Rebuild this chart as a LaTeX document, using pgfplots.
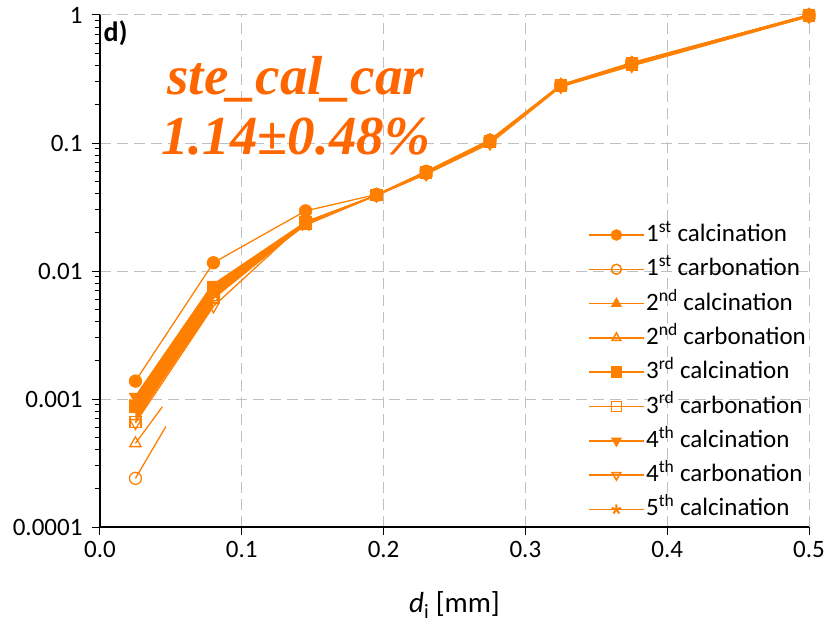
\documentclass[border=0pt]{standalone}
\usepackage{fontspec}
\setmainfont{Carlito}
\newfontfamily\bigfont{Liberation Serif}
\usepackage{pgfplots}
\pgfplotsset{compat=1.18}
\usetikzlibrary{calc}
\definecolor{lo}{RGB}{255,128,0}
\definecolor{to}{RGB}{255,102,0}
\definecolor{gr}{RGB}{192,192,192}
\pgfplotsset{
  filled/.style={lo, line width=1.3pt, mark options={solid, fill=lo, draw=lo}},
  hollow/.style={lo, line width=1.3pt, mark options={solid, fill=white, draw=lo}},
}
\begin{document}
\begin{tikzpicture}
\begin{axis}[
  name=ax,
  scale only axis,
  width=709pt, height=512pt,
  xmin=0, xmax=0.5,
  ymode=log, ymin=1e-4, ymax=1,
  axis x line=bottom, axis y line=left,
  axis line style={-, black, line width=1.2pt},
  xtick={0,0.1,0.2,0.3,0.4,0.5},
  xticklabels={0.0,0.1,0.2,0.3,0.4,0.5},
  ytick={1e-4,1e-3,1e-2,1e-1,1},
  yticklabels={0.0001,0.001,0.01,0.1,1},
  tick align=outside,
  major tick length=8pt, minor tick length=5pt,
  tick style={black, line width=1pt},
  grid=major,
  major grid style={gr, line width=1pt, dash pattern=on 11pt off 6pt},
  ticklabel style={font=\fontsize{25}{28}\selectfont},
  xticklabel style={yshift=-3pt},
  yticklabel style={xshift=-6pt},
  /pgf/number format/assume math mode=true,
  xlabel={\textit{d}\textsubscript{i} [mm]},
  xlabel style={font=\fontsize{29}{32}\selectfont, yshift=-27pt},
  clip=false,
  legend cell align=left,
  legend style={at={(rel axis cs:0.998,0.60)}, anchor=north east,
    draw=none, fill=none, font=\fontsize{25}{28}\selectfont,
    row sep=4.3pt, inner sep=0pt,
    nodes={inner sep=1.5pt, text height=20pt, text depth=7pt}},
  legend image code/.code={\draw[line width=1.5pt, mark repeat=2, mark phase=2, mark size=5pt]
    plot coordinates {(0pt,0pt) (27.5pt,0pt) (55pt,0pt)};},
]
% bands where the lower lines run together
\addplot[fill=lo, draw=none, forget plot] coordinates {
  (0.025,0.00107) (0.08,0.0082) (0.08,0.0053) (0.025,0.00068)};
\addplot[fill=lo, draw=none, forget plot] coordinates {
  (0.08,0.0080) (0.145,0.0245) (0.145,0.0230) (0.08,0.0060)};
% short stubs of the carbonation lines
\addplot[lo, line width=1.3pt, forget plot] coordinates {(0.025,0.00024) (0.0465,0.00061)};
\addplot[lo, line width=1.3pt, forget plot] coordinates {(0.025,0.00045) (0.044,0.00087)};

\addplot[filled, mark=*, mark size=6pt] coordinates {
  (0.025,0.00138) (0.08,0.0116) (0.145,0.0295) (0.195,0.0396) (0.23,0.060)
  (0.275,0.105) (0.325,0.280) (0.375,0.420) (0.5,1.0)};
\addlegendentry{1\textsuperscript{st} calcination}
\addplot[hollow, mark=o, mark size=6pt, unbounded coords=jump] coordinates {
  (0.025,0.00024) (0.05,nan) (0.08,0.0065) (0.145,0.0240) (0.195,0.039) (0.23,0.058)
  (0.275,0.102) (0.325,0.280) (0.375,0.410) (0.5,0.98)};
\addlegendentry{1\textsuperscript{st} carbonation}
\addplot[filled, mark=triangle*, mark size=6.5pt] coordinates {
  (0.025,0.00092) (0.08,0.0070) (0.145,0.0235) (0.195,0.039) (0.23,0.059)
  (0.275,0.104) (0.325,0.285) (0.375,0.420) (0.5,1.0)};
\addlegendentry{2\textsuperscript{nd} calcination}
\addplot[hollow, mark=triangle, mark size=6.5pt, unbounded coords=jump] coordinates {
  (0.025,0.00045) (0.05,nan) (0.08,0.0062) (0.145,0.0240) (0.195,0.039) (0.23,0.058)
  (0.275,0.102) (0.325,0.280) (0.375,0.410) (0.5,0.99)};
\addlegendentry{2\textsuperscript{nd} carbonation}
\addplot[filled, mark=square*, mark size=5.5pt] coordinates {
  (0.025,0.00087) (0.08,0.0074) (0.145,0.0235) (0.195,0.039) (0.23,0.059)
  (0.275,0.104) (0.325,0.283) (0.375,0.420) (0.5,1.0)};
\addlegendentry{3\textsuperscript{rd} calcination}
\addplot[hollow, mark=square, mark size=5.5pt] coordinates {
  (0.025,0.00066) (0.08,0.0062) (0.145,0.0240) (0.195,0.039) (0.23,0.058)
  (0.275,0.102) (0.325,0.280) (0.375,0.410) (0.5,0.99)};
\addlegendentry{3\textsuperscript{rd} carbonation}
\addplot[filled, mark=triangle*, mark size=6.5pt, mark options={rotate=180}] coordinates {
  (0.025,0.00104) (0.08,0.0078) (0.145,0.0240) (0.195,0.039) (0.23,0.059)
  (0.275,0.104) (0.325,0.283) (0.375,0.420) (0.5,1.0)};
\addlegendentry{4\textsuperscript{th} calcination}
\addplot[hollow, mark=triangle, mark size=6.5pt, mark options={rotate=180}] coordinates {
  (0.025,0.00065) (0.08,0.0053) (0.145,0.0243) (0.195,0.039) (0.23,0.057)
  (0.275,0.099) (0.325,0.275) (0.375,0.400) (0.5,0.97)};
\addlegendentry{4\textsuperscript{th} carbonation}
\addplot[filled, mark=star, mark size=6.5pt, mark options={line width=2pt}] coordinates {
  (0.025,0.00095) (0.08,0.0068) (0.145,0.0228) (0.195,0.039) (0.23,0.060)
  (0.275,0.106) (0.325,0.285) (0.375,0.425) (0.5,1.0)};
\addlegendentry{5\textsuperscript{th} calcination}

\node[anchor=north west, inner sep=0pt, font=\fontsize{28}{30}\selectfont\bfseries]
  at (rel axis cs:0.005,0.99) {d)};
\node[anchor=base, inner sep=0pt, text=to, font=\fontsize{55}{58}\selectfont\bigfont\bfseries\itshape]
  at (rel axis cs:0.276,0.844) {ste\_cal\_car};
\node[anchor=base, inner sep=0pt, text=to, font=\fontsize{55}{58}\selectfont\bigfont\bfseries\itshape]
  at (rel axis cs:0.276,0.727) {1.14±0.48\%};
\end{axis}
\pgfresetboundingbox
\path[use as bounding box] ($(ax.south west)+(-100pt,-102pt)$) rectangle ($(ax.north east)+(22pt,15pt)$);
\end{tikzpicture}
\end{document}
